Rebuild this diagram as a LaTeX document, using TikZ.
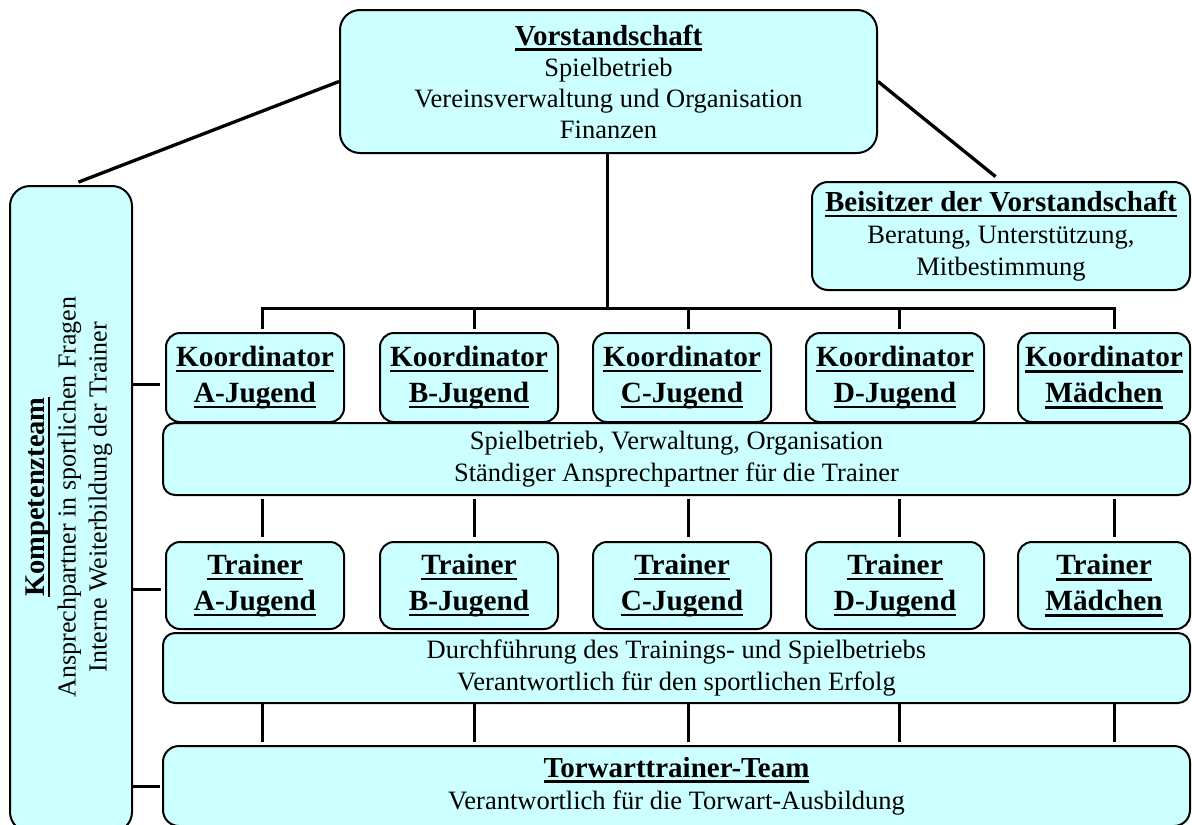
\documentclass[tikz,border=0pt]{standalone}
\usepackage{fontspec}
\setmainfont{Liberation Serif}
\definecolor{boxfill}{RGB}{204,255,255}
\newcommand{\myul}[1]{\leavevmode\setbox0=\hbox{#1}\rlap{\rule[-5.8pt]{\wd0}{2.6pt}}\box0}
\begin{document}
\begin{tikzpicture}[x=1pt,y=-1pt,
  box/.style={draw=black, line width=2pt, fill=boxfill, rounded corners=14pt, inner sep=0pt, align=center},
  conn/.style={draw=black, line width=3pt},
  bodyfont/.style={font=\fontsize{26.5}{32}\selectfont},
  headfont/.style={font=\fontsize{29.3}{36}\selectfont\bfseries},
  rowbox/.style={box, headfont, minimum width=178pt},
]
\useasboundingbox (0,0) rectangle (1192,825);

% top
\node[box, font=\fontsize{26.5}{31}\selectfont, rounded corners=20pt, minimum width=537pt, minimum height=143pt] (V) at (608.5,81.5)
  {{\fontsize{29}{31}\bfseries\selectfont\myul{Vorstandschaft}}\\Spielbetrieb\\Vereinsverwaltung und Organisation\\Finanzen};
\node[box, bodyfont, rounded corners=16pt, minimum width=378pt, minimum height=108pt] (B) at (1001,236)
  {{\fontsize{29}{32}\bfseries\selectfont\myul{Beisitzer der Vorstandschaft}}\\Beratung, Unterstützung,\\Mitbestimmung};

% Kompetenzteam
\node[box, rounded corners=20pt, minimum width=122pt, minimum height=646pt] (K) at (71,509) {};
\node[rotate=90, align=center, font=\fontsize{26}{31}\selectfont, inner sep=0pt] (Kt) at (69,497)
  {{\fontsize{28.5}{31}\bfseries\selectfont\myul{Kompetenzteam}}\\Ansprechpartner in sportlichen Fragen\\Interne Weiterbildung der Trainer};

% Koordinatoren
\node[rowbox, minimum height=89pt] (kA) at (255,377.5) {\myul{Koordinator}\\\myul{A-Jugend}};
\node[rowbox, minimum height=89pt] (kB) at (469,377.5) {\myul{Koordinator}\\\myul{B-Jugend}};
\node[rowbox, minimum height=89pt] (kC) at (682,377.5) {\myul{Koordinator}\\\myul{C-Jugend}};
\node[rowbox, minimum height=89pt] (kD) at (895,377.5) {\myul{Koordinator}\\\myul{D-Jugend}};
\node[rowbox, minimum height=89pt, minimum width=172pt] (kM) at (1104,377.5) {\myul{Koordinator}\\\myul{Mädchen}};

\node[box, bodyfont, rounded corners=12pt, minimum width=1027pt, minimum height=72pt] (S1) at (676.5,459)
  {Spielbetrieb, Verwaltung, Organisation\\Ständiger Ansprechpartner für die Trainer};

% Trainer
\node[rowbox, minimum height=87pt] (tA) at (255,585.5) {\myul{Trainer}\\\myul{A-Jugend}};
\node[rowbox, minimum height=87pt] (tB) at (469,585.5) {\myul{Trainer}\\\myul{B-Jugend}};
\node[rowbox, minimum height=87pt] (tC) at (682,585.5) {\myul{Trainer}\\\myul{C-Jugend}};
\node[rowbox, minimum height=87pt] (tD) at (895,585.5) {\myul{Trainer}\\\myul{D-Jugend}};
\node[rowbox, minimum height=87pt, minimum width=172pt] (tM) at (1104,585.5) {\myul{Trainer}\\\myul{Mädchen}};

\node[box, bodyfont, rounded corners=12pt, minimum width=1027pt, minimum height=70pt] (S2) at (676.5,668)
  {Durchführung des Trainings- und Spielbetriebs\\Verantwortlich für den sportlichen Erfolg};

\node[box, bodyfont, rounded corners=16pt, minimum width=1027pt, minimum height=80pt] (T) at (676.5,786)
  {{\fontsize{29}{32}\bfseries\selectfont\myul{Torwarttrainer-Team}}\\Verantwortlich für die Torwart-Ausbildung};

% coordinates
\coordinate (xA) at (262,308);
\coordinate (xB) at (474,308);
\coordinate (xC) at (688,308);
\coordinate (xD) at (899,308);
\coordinate (xM) at (1114,308);
\coordinate (vx) at (607.5,308);

% connectors
\draw[conn, line width=3.3pt, shorten >=8pt] (V.west) -- (K.north);
\draw[conn, line width=3.3pt, shorten >=7pt] (V.east) -- (B.north);
\draw[conn] (V.south -| vx) -- (vx);
\draw[conn, shorten <=3pt, shorten >=3pt] (kA.north -| xA) -- (xA) -- (xM) -- (kM.north -| xM);
\foreach \c/\n in {xB/kB, xC/kC, xD/kD}
  \draw[conn, shorten >=3pt] (\c) -- (\n.north -| \c);
\foreach \c/\a/\b in {xA/S1/tA, xB/S1/tB, xC/S1/tC, xD/S1/tD, xM/S1/tM}
  \draw[conn, shorten <=3pt, shorten >=4pt] (\a.south -| \c) -- (\b.north -| \c);
\foreach \c/\b in {xA/tA, xB/tB, xC/tC, xD/tD, xM/tM}
  \draw[conn, shorten >=3pt] (S2.south -| \c) -- (T.north -| \c);
\draw[conn, shorten >=5pt, transform canvas={yshift=-6.5pt}] (K.east |- kA.west) -- (kA.west);
\draw[conn, shorten >=4pt, transform canvas={yshift=-3.5pt}] (K.east |- tA.west) -- (tA.west);
\draw[conn, shorten >=2pt] (K.east |- T.west) -- (T.west);
\end{tikzpicture}
\end{document}
